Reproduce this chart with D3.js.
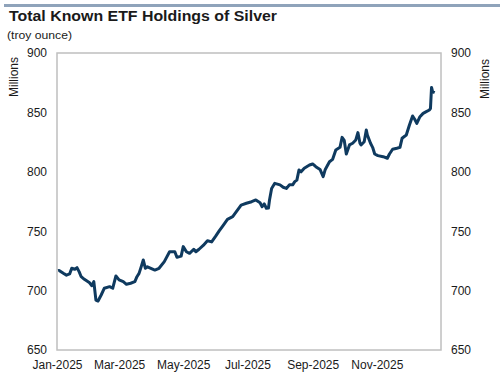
<!DOCTYPE html>
<html>
<head>
<meta charset="utf-8">
<script src="https://cdn.jsdelivr.net/npm/d3@7"></script>
<style>
body { margin: 0; background: #fff; }
text { font-family: Arial, "Liberation Sans", sans-serif; fill: #1a1a1a; }
</style>
</head>
<body>
<script>
var dates = ["2025-01-02","2025-01-03","2025-01-07","2025-01-10","2025-01-13","2025-01-15","2025-01-18","2025-01-20","2025-01-22","2025-01-24","2025-01-27",
  "2025-02-01","2025-02-03","2025-02-05","2025-02-07","2025-02-09","2025-02-12","2025-02-15","2025-02-20","2025-02-23","2025-02-26",
  "2025-03-01","2025-03-05","2025-03-08","2025-03-12","2025-03-16","2025-03-18","2025-03-20","2025-03-22","2025-03-24","2025-03-26","2025-03-28",
  "2025-04-04","2025-04-08","2025-04-13","2025-04-18","2025-04-23","2025-04-25","2025-04-29",
  "2025-05-01","2025-05-04","2025-05-07","2025-05-11","2025-05-13","2025-05-16","2025-05-20","2025-05-24","2025-05-28",
  "2025-06-01","2025-06-04","2025-06-08","2025-06-12","2025-06-17","2025-06-25","2025-06-30",
  "2025-07-05","2025-07-09","2025-07-13","2025-07-15","2025-07-17","2025-07-19","2025-07-21","2025-07-22","2025-07-24","2025-07-27",
  "2025-08-01","2025-08-04","2025-08-07","2025-08-10","2025-08-13","2025-08-15","2025-08-17","2025-08-19","2025-08-21","2025-08-24","2025-08-29",
  "2025-09-01","2025-09-04","2025-09-08","2025-09-11","2025-09-13","2025-09-17","2025-09-20","2025-09-23","2025-09-27","2025-09-29",
  "2025-10-01","2025-10-03","2025-10-06","2025-10-09","2025-10-12","2025-10-14","2025-10-16","2025-10-17","2025-10-20","2025-10-22","2025-10-23","2025-10-26","2025-10-28","2025-10-30",
  "2025-11-02","2025-11-07","2025-11-11","2025-11-13","2025-11-16","2025-11-20","2025-11-23","2025-11-25","2025-11-29",
  "2025-12-02","2025-12-05","2025-12-07","2025-12-09","2025-12-12","2025-12-15","2025-12-18","2025-12-21","2025-12-22","2025-12-23","2025-12-24","2025-12-26"];

// millions of troy ounces
var holdings = [716.8,717,714.6,713,714,718.8,718,719.3,716,711.7,709.5,
  706.6,704.1,707.5,692,691.2,696.3,702,703.3,702,712.3,
  709,707.5,705.3,706.2,707.5,711.7,714.5,720,725.8,718.8,720,
  717.3,718.8,724.4,732.7,732.7,728,729,
  737,732.7,731.4,734.8,732.7,734.8,738,742,741,
  746,750,755,760,762.2,772,773.5,
  774.8,776.3,774,770.6,773,769.3,769.5,776.3,786,790.3,
  789,787,786,789,789,791.7,793,801.5,800,803,805.7,
  806.6,804.3,802,795.9,802,808.5,810.5,818.4,820.6,829,
  826.5,815,822.6,824,826.8,833,824,822.6,825.3,835.2,831,824,820.6,815,
  813.6,812.7,811.4,815,819,819.8,820.6,828.2,831,
  839.4,847,844.2,840.8,846.4,849.2,850.6,852,853.4,871,867.4,866.6];

var yTicks = [650, 700, 750, 800, 850, 900];
var xTicks = ["2025-01-01","2025-03-01","2025-05-01","2025-07-01","2025-09-01","2025-11-01"];

var title = "Total Known ETF Holdings of Silver";
var subtitle = "(troy ounce)";
var unitLabel = "Millions";

var margin = {top: 53, right: 59, bottom: 28, left: 57};
var width = 500 - margin.left - margin.right, height = 378 - margin.top - margin.bottom;

var parse = d3.timeParse("%Y-%m-%d");
var series = dates.map((d, i) => ({date: parse(d), value: holdings[i]}));

var svg = d3.select("body").append("svg")
    .attr("width", 500)
    .attr("height", 378);

// header strip
svg.append("rect")
    .attr("x", 4).attr("y", 4)
    .attr("width", 496).attr("height", 3)
    .attr("fill", "#8fa3ba");

svg.append("text")
    .attr("x", 9).attr("y", 21)
    .attr("textLength", 268)
    .attr("lengthAdjust", "spacingAndGlyphs")
    .style("font-size", "14.5px")
    .style("font-weight", "bold")
    .text(title);

svg.append("text")
    .attr("x", 7).attr("y", 39)
    .attr("textLength", 65)
    .attr("lengthAdjust", "spacingAndGlyphs")
    .style("font-size", "11px")
    .text(subtitle);

var g = svg.append("g")
    .attr("transform", "translate(" + margin.left + "," + margin.top + ")");

var x = d3.scaleTime()
    .domain([parse("2025-01-01"), parse("2026-01-01")])
    .range([0, width]);

var y = d3.scaleLinear()
    .domain([650, 900])
    .range([height, 0]);

var yLeft = d3.axisLeft(y).tickValues(yTicks).tickSize(0).tickPadding(10);
var yRight = d3.axisRight(y).tickValues(yTicks).tickSize(0).tickPadding(10);
var xAxis = d3.axisBottom(x).tickValues(xTicks.map(parse))
    .tickFormat(d3.timeFormat("%b-%Y")).tickSize(0).tickPadding(10);

function styleAxis(sel) {
    sel.select(".domain").remove();
    sel.selectAll("text").style("font-size", "12px").attr("fill", "#1a1a1a");
}

g.append("g").call(yLeft).call(styleAxis);
g.append("g").attr("transform", "translate(" + width + ",0)").call(yRight).call(styleAxis);
g.append("g").attr("transform", "translate(0," + height + ")").call(xAxis).call(styleAxis);

// plot frame
g.append("rect")
    .attr("width", width)
    .attr("height", height)
    .attr("fill", "none")
    .attr("stroke", "#bfbfbf")
    .attr("stroke-width", 1.5);

var line = d3.line()
    .x(d => x(d.date))
    .y(d => y(d.value));

g.append("path")
    .datum(series)
    .attr("fill", "none")
    .attr("stroke", "#0f3a5f")
    .attr("stroke-width", 3)
    .attr("stroke-linejoin", "round")
    .attr("d", line);

svg.append("text")
    .attr("transform", "translate(18,77) rotate(-90)")
    .attr("text-anchor", "middle")
    .style("font-size", "12px")
    .text(unitLabel);

svg.append("text")
    .attr("transform", "translate(489,79) rotate(-90)")
    .attr("text-anchor", "middle")
    .style("font-size", "12px")
    .text(unitLabel);
</script>
</body>
</html>
